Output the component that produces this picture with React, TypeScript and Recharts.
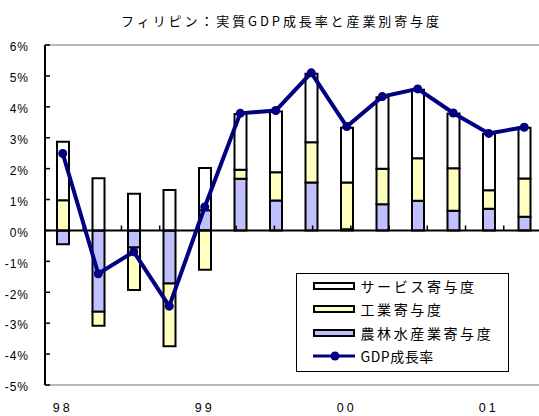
import {
  Bar,
  ComposedChart,
  Legend,
  Line,
  ReferenceLine,
  XAxis,
  YAxis,
} from "recharts";

const QUARTERS = [
  "98Q1", "98Q2", "98Q3", "98Q4",
  "99Q1", "99Q2", "99Q3", "99Q4",
  "00Q1", "00Q2", "00Q3", "00Q4",
  "01Q1", "01Q2",
];
const YEAR_LABELS: Record<string, string> = {
  "98Q1": "98",
  "99Q1": "99",
  "00Q1": "00",
  "01Q1": "01",
};

// contributions by sector (% points)
const AGRICULTURE = [-0.45, -2.63, -0.55, -1.72, 0.65, 1.67, 0.97, 1.55, 0.04, 0.85, 0.96, 0.64, 0.7, 0.44];
const INDUSTRY = [0.98, -0.45, -1.38, -2.03, -1.27, 0.29, 0.91, 1.3, 1.51, 1.15, 1.38, 1.37, 0.6, 1.24];
const SERVICES = [1.89, 1.69, 1.19, 1.31, 1.37, 1.81, 1.97, 2.22, 1.77, 2.31, 2.21, 1.77, 1.82, 1.64];
const GDP = [2.49, -1.4, -0.69, -2.45, 0.76, 3.79, 3.88, 5.1, 3.36, 4.33, 4.58, 3.8, 3.14, 3.34];

const Y_TICKS = [-5, -4, -3, -2, -1, 0, 1, 2, 3, 4, 5, 6];

const TITLE = "フィリピン：実質GDP成長率と産業別寄与度";

const LEGEND_ITEMS = [
  { label: "サービス寄与度", fill: "#ffffff", kind: "bar" },
  { label: "工業寄与度", fill: "#ffffc0", kind: "bar" },
  { label: "農林水産業寄与度", fill: "#c0c0ff", kind: "bar" },
  { label: "GDP成長率", fill: "#000080", kind: "line" },
];

const JP = '"Noto Sans CJK JP", sans-serif';
const LATIN = '"Liberation Sans", Arial, sans-serif';

const data = QUARTERS.map((quarter, i) => ({
  quarter,
  agriculture: AGRICULTURE[i],
  industry: INDUSTRY[i],
  services: SERVICES[i],
  gdp: GDP[i],
}));

function LegendBox() {
  return (
    <div
      style={{
        width: 213,
        height: 99,
        boxSizing: "border-box",
        border: "1.5px solid #000",
        background: "#fff",
        paddingLeft: 15.5,
        fontFamily: JP,
        fontSize: 14,
        color: "#000",
      }}
    >
      {LEGEND_ITEMS.map((item) => (
        <div key={item.label} style={{ display: "flex", alignItems: "center", height: 23.5 }}>
          {item.kind === "bar" ? (
            <div
              style={{
                width: 42,
                height: 8,
                boxSizing: "border-box",
                border: "2px solid #000",
                background: item.fill,
              }}
            />
          ) : (
            <svg width={42} height={10}>
              <line x1={0} y1={5} x2={42} y2={5} stroke={item.fill} strokeWidth={3} />
              <circle cx={22} cy={5} r={4.5} fill={item.fill} />
            </svg>
          )}
          <span
            style={{
              marginLeft: 6,
              lineHeight: "16px",
              letterSpacing: item.kind === "bar" ? 2.6 : 0.5,
            }}
          >
            {item.label}
          </span>
        </div>
      ))}
    </div>
  );
}

export default function App() {
  return (
    <div
      style={{
        position: "absolute",
        left: 0,
        top: 0,
        width: 539,
        height: 416,
        overflow: "hidden",
        background: "#fff",
      }}
    >
      <div
        style={{
          position: "absolute",
          left: 0,
          top: 12,
          width: 563,
          textAlign: "center",
          fontFamily: JP,
          fontSize: 13,
          lineHeight: "18px",
          letterSpacing: 2.9,
          color: "#000",
        }}
      >
        {TITLE}
      </div>
      <ComposedChart
        width={542}
        height={416}
        data={data}
        stackOffset="sign"
        margin={{ top: 45, right: 0, bottom: 0, left: 0 }}
      >
        <XAxis
          dataKey="quarter"
          height={31}
          interval={0}
          axisLine={{ stroke: "#a0a0a0", strokeWidth: 1.5 }}
          tickLine={false}
          tickSize={0}
          tickMargin={18}
          tickFormatter={(q: string) => YEAR_LABELS[q] ?? ""}
          tick={{ fontSize: 12.5, fill: "#000", fontFamily: LATIN, letterSpacing: 3 }}
        />
        <XAxis xAxisId="edge" type="number" domain={[0, QUARTERS.length]} hide allowDataOverflow />
        <YAxis
          width={45}
          domain={[-5, 6]}
          ticks={Y_TICKS}
          interval={0}
          allowDataOverflow
          axisLine={{ stroke: "#000", strokeWidth: 2 }}
          tickLine={{ stroke: "#000", strokeWidth: 1.5 }}
          tickSize={-5}
          tickMargin={21}
          tickFormatter={(v: number) => `${v}%`}
          tick={{ fontSize: 12, fill: "#000", fontFamily: LATIN, letterSpacing: 1, dy: 2 }}
        />
        <ReferenceLine y={6} stroke="#a0a0a0" strokeWidth={1.5} />
        <Bar dataKey="agriculture" stackId="s" fill="#c0c0ff" stroke="#000" strokeWidth={2} barSize={12} isAnimationActive={false} />
        <Bar dataKey="industry" stackId="s" fill="#ffffc0" stroke="#000" strokeWidth={2} barSize={12} isAnimationActive={false} />
        <Bar dataKey="services" stackId="s" fill="#ffffff" stroke="#000" strokeWidth={2} barSize={12} isAnimationActive={false} />
        <ReferenceLine y={0} stroke="#000" strokeWidth={2} />
        {QUARTERS.slice(1).map((q, i) => (
          <ReferenceLine
            key={q}
            xAxisId="edge"
            segment={[
              { x: i + 1, y: 0 },
              { x: i + 1, y: 0.16 },
            ]}
            stroke="#000"
            strokeWidth={1.5}
          />
        ))}
        <Line
          type="linear"
          dataKey="gdp"
          stroke="#000080"
          strokeWidth={4}
          dot={{ r: 4.5, fill: "#000080", stroke: "#000080", strokeWidth: 0 }}
          activeDot={false}
          isAnimationActive={false}
        />
        <Legend
          layout="horizontal"
          verticalAlign="middle"
          align="center"
          wrapperStyle={{ left: 296, top: 273, width: 213, height: 99 }}
          content={() => <LegendBox />}
        />
      </ComposedChart>
    </div>
  );
}
